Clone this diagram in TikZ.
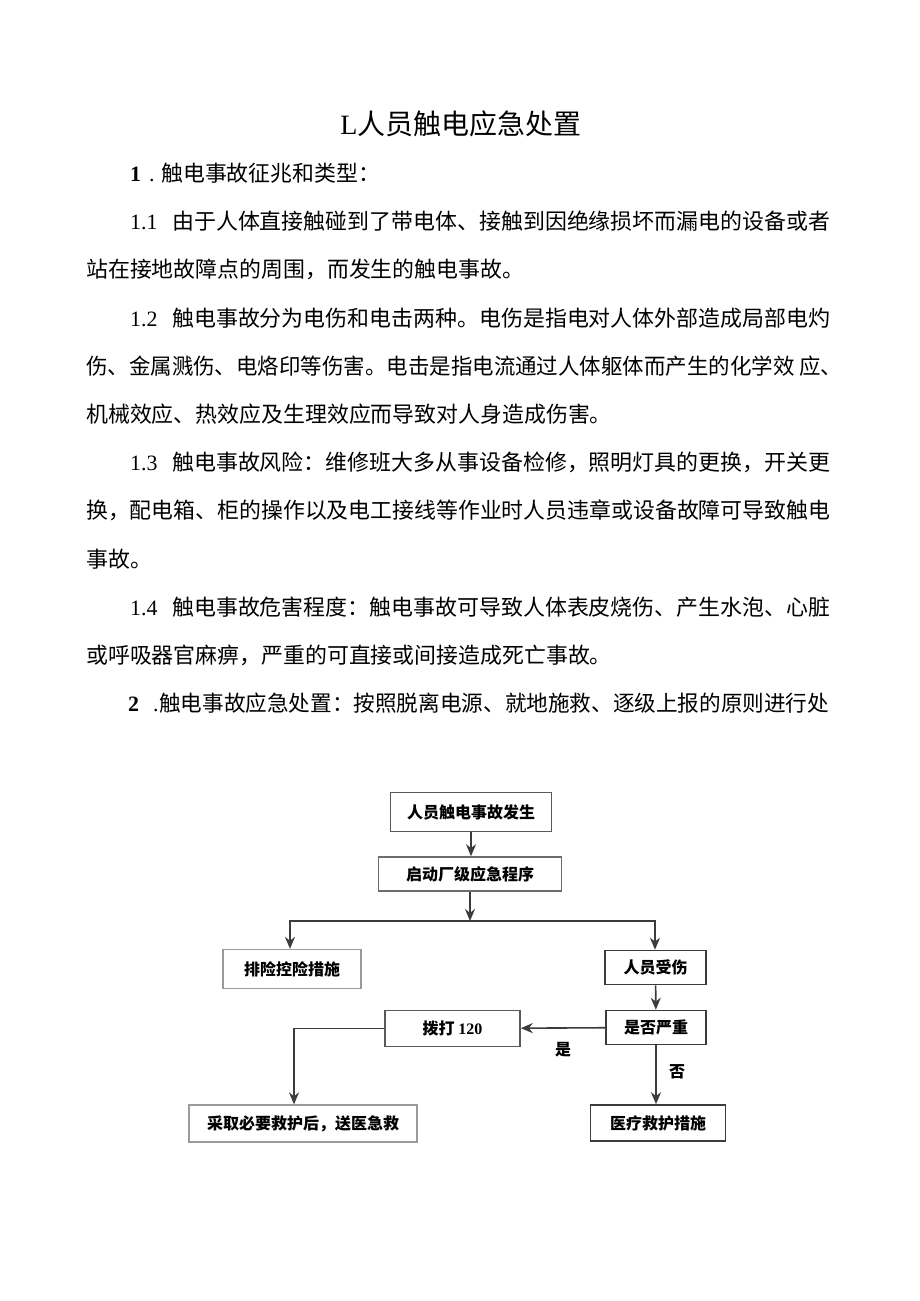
\documentclass[tikz,border=0pt]{standalone}
\usepackage{fontspec}
\setmainfont{Liberation Serif}
\newfontfamily\cjk{Noto Sans CJK SC}
\usetikzlibrary{calc, arrows.meta}
\definecolor{sgray}{HTML}{9A9A9A}
\definecolor{dgray}{HTML}{3C3C3C}
\newcommand{\jline}[2]{\resizebox{#1pt}{\height}{#2}}

\begin{document}
\begin{tikzpicture}[x=1pt, y=-1pt,
    TXT/.style={inner sep=0pt, anchor=base west, font=\fontsize{21.9}{22}\selectfont},
    BOX/.style={rectangle, draw=dgray, line width=1.6pt, inner sep=0pt, font=\cjk\bfseries\fontsize{16}{16}\selectfont},
    LBOX/.style={BOX, draw=sgray, line width=1.3pt},
    LBL/.style={inner sep=0pt, font=\cjk\bfseries\fontsize{16}{16}\selectfont},
    LNK/.style={line width=1.6pt, draw=dgray, >={Stealth[length=12pt,width=10pt]}, ->}
    ]
    \useasboundingbox[fill=white] (0,0) rectangle (920,1301);

    % title and text
    \node[anchor=base, inner sep=0pt, font=\fontsize{28}{28}\selectfont] (title) at (461,134) {L{\cjk 人员触电应急处置}};
    \node[TXT] (n1) at (130,181) {\textbf{1}\hspace{8pt}.};
    \node[TXT] (t1) at (161,181) {\cjk 触电事故征兆和类型：};
    \node[TXT] (n11) at (130,229) {1.1};
    \node[TXT] (t11a) at (172,229) {\cjk\jline{658}{由于人体直接触碰到了带电体、接触到因绝缘损坏而漏电的设备或者}};
    \node[TXT] (t11b) at (86,277) {\cjk 站在接地故障点的周围，而发生的触电事故。};
    \node[TXT] (n12) at (130,326) {1.2};
    \node[TXT] (t12a) at (172,326) {\cjk\jline{658}{触电事故分为电伤和电击两种。电伤是指电对人体外部造成局部电灼}};
    \node[TXT] (t12b) at (86,374) {\cjk\jline{756}{伤、金属溅伤、电烙印等伤害。电击是指电流通过人体躯体而产生的化学效 应、}};
    \node[TXT] (t12c) at (86,422) {\cjk 机械效应、热效应及生理效应而导致对人身造成伤害。};
    \node[TXT] (n13) at (130,470) {1.3};
    \node[TXT] (t13a) at (172,470) {\cjk\jline{658}{触电事故风险：维修班大多从事设备检修，照明灯具的更换，开关更}};
    \node[TXT] (t13b) at (86,518) {\cjk\jline{744}{换，配电箱、柜的操作以及电工接线等作业时人员违章或设备故障可导致触电}};
    \node[TXT] (t13c) at (86,567) {\cjk 事故。};
    \node[TXT] (n14) at (130,615) {1.4};
    \node[TXT] (t14a) at (172,615) {\cjk\jline{658}{触电事故危害程度：触电事故可导致人体表皮烧伤、产生水泡、心脏}};
    \node[TXT] (t14b) at (86,663) {\cjk 或呼吸器官麻痹，严重的可直接或间接造成死亡事故。};
    \node[TXT] (n2) at (128,711) {\textbf{2}\hspace{14pt}.};
    \node[TXT] (t2) at (159,711) {\cjk\jline{670}{触电事故应急处置：按照脱离电源、就地施救、逐级上报的原则进行处}};

    % flow chart
    \node[BOX, draw=dgray!85, minimum width=161pt, minimum height=39pt] (occur) at (471,812) {人员触电事故发生};
    \node[BOX, draw=dgray!75, minimum width=183pt, minimum height=34pt] (launch) at (470,874) {启动厂级应急程序};
    \node[LBOX, minimum width=138pt, minimum height=39pt] (hazard) at (292,969) {排险控险措施};
    \node[BOX, minimum width=101pt, minimum height=34pt] (injured) at (655.5,967.5) {人员受伤};
    \node[BOX, minimum width=100pt, minimum height=34pt] (severe) at (656,1027.5) {是否严重};
    \node[BOX, draw=dgray!85, minimum width=135pt, minimum height=36pt] (dial) at (452.5,1028.5) {拨打 {\rmfamily 120}};
    \node[LBOX, minimum width=228pt, minimum height=37pt] (firstaid) at (303,1123.5) {采取必要救护后，送医急救};
    \node[BOX, minimum width=135pt, minimum height=36pt] (medical) at (658,1123) {医疗救护措施};

    \coordinate (jl) at (290,921);
    \coordinate (jr) at (655,921);
    \coordinate (jd) at (294,1028.5);

    \draw[LNK] (occur.south) -- (occur.south |- launch.north);
    \draw[LNK] (launch.south) -- (launch.south |- jl);
    \draw[LNK, <->] (jl |- hazard.north) -- (jl) -- (jr) -- (jr |- injured.north);
    \draw[LNK] (injured) -- (severe);
    \draw[LNK] (severe) -- (dial);
    \draw[LNK] (severe.south) -- (severe.south |- medical.north);
    \draw[LNK] (dial.west) -- (jd) -- (jd |- firstaid.north);

    \node[LBL] (yes) at (563,1050) {是};
    \node[LBL] (no) at (677,1072) {否};
\end{tikzpicture}
\end{document}
